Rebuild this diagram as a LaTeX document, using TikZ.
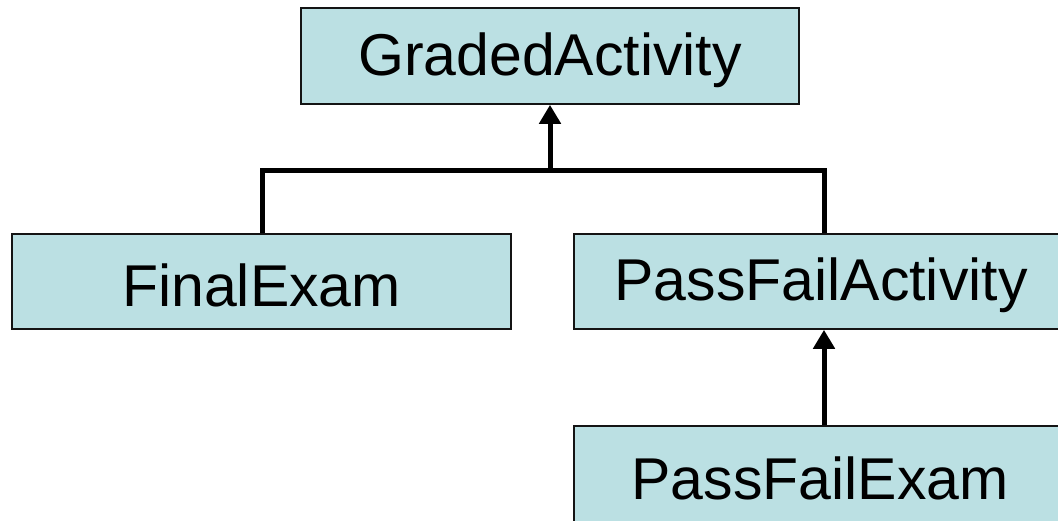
\documentclass[tikz,border=0pt]{standalone}
\usepackage{fontspec}
\setmainfont{Liberation Sans}
\usetikzlibrary{arrows.meta}
\definecolor{boxfill}{RGB}{187,224,227}
\definecolor{boxline}{RGB}{20,20,20}
\tikzset{
  classbox/.style={draw=boxline, fill=boxfill, line width=1.6pt, rectangle, inner sep=0pt},
  classtext/.style={inner sep=0pt, font=\fontsize{59}{70}\selectfont, text=black},
  link/.style={line width=5pt, black},
  inherit/.style={line width=5pt, black, -{Triangle[width=21pt,length=19pt]}}
}
\begin{document}
\begin{tikzpicture}[x=1pt,y=-1pt]
\useasboundingbox (0,0) rectangle (1058,520);
\clip (0,0) rectangle (1058,520);
\node[classbox, minimum width=498pt, minimum height=96pt] (ga) at (550,56) {};
\node[classbox, minimum width=499pt, minimum height=95pt] (fe) at (261.5,281.5) {};
\node[classbox, minimum width=500pt, minimum height=95pt] (pfa) at (824,281.5) {};
\node[classbox, minimum width=500pt, minimum height=104pt] (pfe) at (824,478) {};
\node[classtext] (gat) at (550,60) {GradedActivity};
\node[classtext] (fet) at (261.5,285) {FinalExam};
\node[classtext] (pfat) at (821,285) {PassFailActivity};
\node[classtext] (pfet) at (820,478) {PassFailExam};
\coordinate (j) at (550,170);
\draw[link] (fe.north -| 262,0) |- (j) -| (pfa.north);
\draw[inherit] (j) -- (ga.south);
\draw[inherit] (pfe.north) -- (pfa.south);
\end{tikzpicture}
\end{document}
